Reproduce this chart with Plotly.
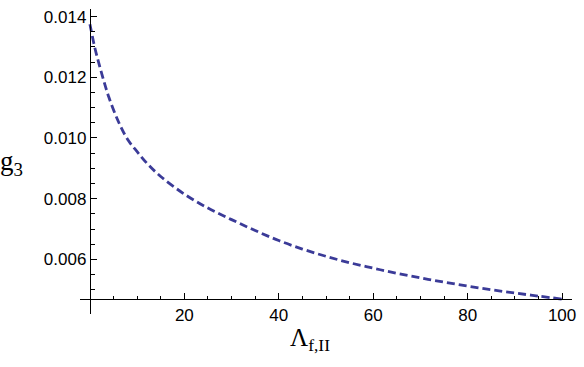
import plotly.graph_objects as go

lam = [0, 1, 2, 3, 4, 6, 8, 10, 12, 15, 20, 25, 30, 35, 40, 45, 50, 55, 60, 65, 70, 75, 80, 85, 90, 95, 100]
g3 = [0.01375, 0.01300, 0.01240, 0.01185, 0.01135, 0.01055, 0.00995, 0.00955, 0.00918,
      0.00873, 0.00815, 0.00769, 0.00731, 0.00695, 0.00662, 0.00634, 0.00610, 0.00589,
      0.00571, 0.00554, 0.00539, 0.00525, 0.00512, 0.00500, 0.00489, 0.00479, 0.00469]

x_ticks = [20, 40, 60, 80, 100]
x_minor = [5, 10, 15, 25, 30, 35, 45, 50, 55, 65, 70, 75, 85, 90, 95]
y_ticks = [0.006, 0.008, 0.010, 0.012, 0.014]
y_tick_text = ["0.006", "0.008", "0.010", "0.012", "0.014"]
y_minor = [round(0.005 + 0.0005 * i, 5) for i in range(19)]

xr = [-2.1, 102.1]
yr = [0.0042, 0.01425]
x_axis_pos = (min(g3) - yr[0]) / (yr[1] - yr[0])
y_axis_pos = (0 - xr[0]) / (xr[1] - xr[0])

fig = go.Figure()
fig.add_trace(go.Scatter(
    x=lam, y=g3, mode="lines", line_shape="spline",
    line=dict(color="#3b3b98", width=2.8, dash="8px,4px"),
    showlegend=False, hoverinfo="skip"))

axis_font = dict(family="Liberation Sans, Arial", size=17, color="black")

fig.update_layout(
    width=584, height=367,
    margin=dict(l=80, r=9, t=8, b=53),
    paper_bgcolor="white", plot_bgcolor="white",
    xaxis=dict(range=xr, showgrid=False, zeroline=False, showline=True,
               linecolor="black", linewidth=1.2,
               anchor="free", position=x_axis_pos,
               ticks="inside", ticklen=6, tickwidth=1, tickcolor="black",
               tickvals=x_ticks, tickfont=axis_font,
               minor=dict(ticks="inside", ticklen=3.5, tickwidth=1, tickcolor="black",
                          tickvals=x_minor, showgrid=False)),
    yaxis=dict(range=yr, showgrid=False, zeroline=False, showline=True,
               linecolor="black", linewidth=1.2,
               anchor="free", position=y_axis_pos,
               ticks="inside", ticklen=6, tickwidth=1, tickcolor="black",
               tickvals=y_ticks, ticktext=y_tick_text, tickfont=axis_font,
               minor=dict(ticks="inside", ticklen=3.5, tickwidth=1, tickcolor="black",
                          tickvals=y_minor, showgrid=False)),
    annotations=[
        dict(text="g<sub>3</sub>", xref="paper", yref="paper",
             x=-0.166, y=(314 - 163) / 306, xanchor="left", yanchor="middle",
             showarrow=False, font=dict(family="Liberation Serif", size=27, color="black")),
        dict(text="Λ<sub>f,II</sub>", xref="paper", yref="paper",
             x=(311 - 80) / 495, y=(314 - 340) / 306, xanchor="center", yanchor="middle",
             showarrow=False, font=dict(family="Liberation Serif", size=25, color="black")),
    ],
)

fig.write_html("out.html")
